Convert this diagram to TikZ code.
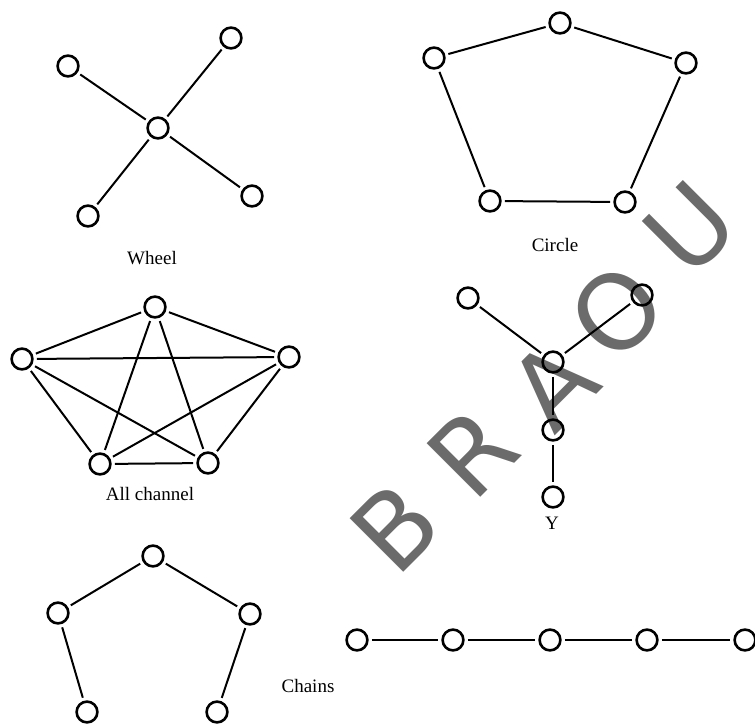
\documentclass[tikz,border=0pt]{standalone}
\usepackage{fontspec}
\setmainfont{Liberation Serif}
\newfontfamily\markfont{DejaVu Sans}

\begin{document}
\begin{tikzpicture}[
  x=0.5pt, y=-0.5pt,
  font=\fontsize{9.5}{11}\selectfont,
  nd/.style={draw, circle, line width=1.3pt, minimum size=10.4pt, inner sep=0pt},
  ln/.style={line width=1pt, shorten <=1.6pt, shorten >=1.6pt},
  lbl/.style={inner sep=0pt},
  wm/.style={text=black!58, font=\markfont\fontsize{52}{54}\selectfont, rotate=45, inner sep=0pt}
]
\useasboundingbox (0,0) rectangle (755,724);
% watermark
\node[wm] (mb) at (395,527) {B};
\node[wm] (mr) at (472,452) {R};
\node[wm] (ma) at (553,385) {A};
\node[wm] (mo) at (617,312) {O};
\node[wm] (mu) at (690,228) {U};
% wheel
\node[nd] (wc) at (158,128) {};
\node[nd] (wa) at (68,66) {};
\node[nd] (wb) at (231,38) {};
\node[nd] (wd) at (252,196) {};
\node[nd] (we) at (88,216) {};
\node[lbl] (wl) at (152,258) {Wheel};
\draw[ln] (wc) -- (wa);
\draw[ln] (wc) -- (wb);
\draw[ln] (wc) -- (wd);
\draw[ln] (wc) -- (we);
% circle
\node[nd] (ct) at (560,23) {};
\node[nd] (cl) at (434,58) {};
\node[nd] (cr) at (686,63) {};
\node[nd] (cb) at (490,201) {};
\node[nd] (cc) at (625,202) {};
\node[lbl] (cx) at (555,245) {Circle};
\draw[ln] (ct) -- (cl);
\draw[ln] (ct) -- (cr);
\draw[ln] (cl) -- (cb);
\draw[ln] (cr) -- (cc);
\draw[ln] (cb) -- (cc);
% all channel
\node[nd] (at) at (155,307) {};
\node[nd] (al) at (22,359) {};
\node[nd] (ar) at (289,357) {};
\node[nd] (ab) at (100,464) {};
\node[nd] (ac) at (208,463) {};
\node[lbl] (ax) at (150,494) {All channel};
\draw[ln] (at) -- (al);
\draw[ln] (at) -- (ar);
\draw[ln] (at) -- (ab);
\draw[ln] (at) -- (ac);
\draw[ln] (al) -- (ar);
\draw[ln] (al) -- (ab);
\draw[ln] (al) -- (ac);
\draw[ln] (ar) -- (ab);
\draw[ln] (ar) -- (ac);
\draw[ln] (ab) -- (ac);
% Y
\node[nd] (yl) at (468,298) {};
\node[nd] (yr) at (642,295) {};
\node[nd] (yc) at (553,362) {};
\node[nd] (ym) at (553,430) {};
\node[nd] (yb) at (553,497) {};
\node[lbl] (yx) at (552,523) {Y};
\draw[ln] (yl) -- (yc);
\draw[ln] (yr) -- (yc);
\draw[ln] (yc) -- (ym);
\draw[ln] (ym) -- (yb);
% chains
\node[nd] (pt) at (153,556) {};
\node[nd] (pl) at (58,613) {};
\node[nd] (pr) at (250,614) {};
\node[nd] (pb) at (87,712) {};
\node[nd] (pc) at (217,712) {};
\draw[ln] (pt) -- (pl);
\draw[ln] (pt) -- (pr);
\draw[ln] (pl) -- (pb);
\draw[ln] (pr) -- (pc);
\node[lbl] (px) at (308,686) {Chains};
\node[nd] (h1) at (357,640) {};
\node[nd] (h2) at (453,640) {};
\node[nd] (h3) at (550,640) {};
\node[nd] (h4) at (647,640) {};
\node[nd] (h5) at (745,640) {};
\draw[ln] (h1) -- (h2);
\draw[ln] (h2) -- (h3);
\draw[ln] (h3) -- (h4);
\draw[ln] (h4) -- (h5);
\end{tikzpicture}
\end{document}
